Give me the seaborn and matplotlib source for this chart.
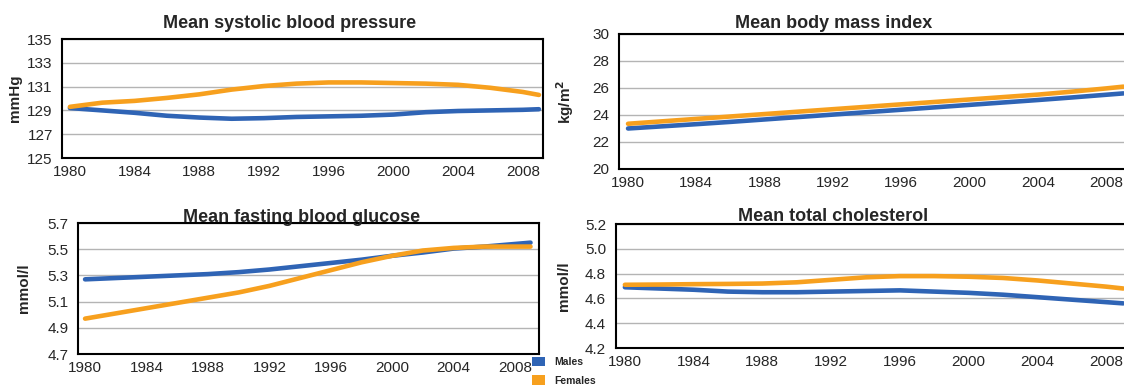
import pandas as pd
import matplotlib.pyplot as plt
import seaborn as sns
from matplotlib.patches import Patch

# values
years = [1980, 1982, 1984, 1986, 1988, 1990, 1992, 1994, 1996, 1998, 2000, 2002, 2004, 2006, 2008, 2009]

sbp_males = [129.2, 129.0, 128.8, 128.55, 128.4, 128.3, 128.35, 128.45, 128.5, 128.55, 128.65, 128.85, 128.95, 129.0, 129.05, 129.1]
sbp_females = [129.3, 129.65, 129.8, 130.05, 130.35, 130.75, 131.05, 131.25, 131.35, 131.35, 131.3, 131.25, 131.15, 130.9, 130.55, 130.3]

bmi_males = [23.0, 23.16, 23.32, 23.49, 23.67, 23.85, 24.03, 24.21, 24.39, 24.57, 24.75, 24.93, 25.11, 25.3, 25.5, 25.6]
bmi_females = [23.35, 23.53, 23.71, 23.89, 24.07, 24.25, 24.43, 24.61, 24.79, 24.97, 25.15, 25.33, 25.51, 25.73, 25.97, 26.1]

glu_males = [5.27, 5.28, 5.29, 5.30, 5.31, 5.325, 5.345, 5.37, 5.395, 5.42, 5.45, 5.475, 5.505, 5.52, 5.54, 5.55]
glu_females = [4.97, 5.01, 5.05, 5.09, 5.13, 5.17, 5.22, 5.28, 5.34, 5.40, 5.45, 5.49, 5.51, 5.52, 5.52, 5.52]

chol_males = [4.69, 4.68, 4.67, 4.655, 4.65, 4.65, 4.655, 4.66, 4.665, 4.655, 4.645, 4.63, 4.61, 4.59, 4.57, 4.56]
chol_females = [4.71, 4.712, 4.715, 4.717, 4.72, 4.73, 4.75, 4.77, 4.78, 4.78, 4.775, 4.765, 4.745, 4.72, 4.695, 4.68]

xticks = [1980, 1984, 1988, 1992, 1996, 2000, 2004, 2008]
sexes = ["Males", "Females"]
colors = {"Males": "#2f64b5", "Females": "#f7a01e"}

sns.set_style("white")
plt.rcParams["font.family"] = ["Liberation Sans", "DejaVu Sans"]

fig = plt.figure(figsize=(11.24, 3.92), dpi=100)

# axes positions in figure fractions (right-hand panels run past the edge, as in the source)
panels = [
    dict(rect=[0.0556, 0.5969, 0.4275, 0.3036], m=sbp_males, f=sbp_females,
         title="Mean systolic blood pressure", tx=0.473, ty=1.13, ylab="mmHg", lx=-0.085,
         ylim=(125, 135), yticks=[125, 127, 129, 131, 133, 135], fmt="{:.0f}", xlim=(1979.54, 2009.25)),
    dict(rect=[0.5507, 0.5689, 0.4564, 0.3444], m=bmi_males, f=bmi_females,
         title="Mean body mass index", tx=0.419, ty=1.08, ylab="kg/m$^\\mathbf{2}$", lx=-0.083,
         ylim=(20, 30), yticks=[20, 22, 24, 26, 28, 30], fmt="{:.0f}", xlim=(1979.47, 2009.5)),
    dict(rect=[0.0694, 0.0969, 0.4101, 0.3342], m=glu_males, f=glu_females,
         title="Mean fasting blood glucose", tx=0.486, ty=1.04, ylab="mmol/l", lx=-0.102,
         ylim=(4.7, 5.7), yticks=[4.7, 4.9, 5.1, 5.3, 5.5, 5.7], fmt="{:.1f}", xlim=(1979.54, 2009.55)),
    dict(rect=[0.548, 0.1122, 0.459, 0.3163], m=chol_males, f=chol_females,
         title="Mean total cholesterol", tx=0.42, ty=1.06, ylab="mmol/l", lx=-0.088,
         ylim=(4.2, 5.2), yticks=[4.2, 4.4, 4.6, 4.8, 5.0, 5.2], fmt="{:.1f}", xlim=(1979.48, 2009.5)),
]

for p in panels:
    ax = fig.add_axes(p["rect"])
    df = pd.DataFrame({
        "year": years * 2,
        "value": p["m"] + p["f"],
        "sex": ["Males"] * len(years) + ["Females"] * len(years),
    })
    sns.lineplot(data=df, x="year", y="value", hue="sex", hue_order=sexes,
                 palette=colors, linewidth=3.3, legend=False, ax=ax)
    ax.set_xlim(p["xlim"])
    ax.set_ylim(p["ylim"])
    ax.set_xticks(xticks)
    ax.set_xticklabels([str(x) for x in xticks], fontsize=11)
    ax.set_yticks(p["yticks"])
    ax.set_yticklabels([p["fmt"].format(v) for v in p["yticks"]], fontsize=11)
    ax.yaxis.grid(True, color="#b4b4b4", linewidth=1)
    ax.set_axisbelow(True)
    ax.tick_params(length=0, axis="x", pad=5)
    ax.tick_params(length=0, axis="y", pad=7)
    for s in ax.spines.values():
        s.set_color("black")
        s.set_linewidth(1.5)
    ax.set_xlabel("")
    ax.set_ylabel(p["ylab"], fontsize=11, fontweight="bold")
    ax.yaxis.set_label_coords(p["lx"], 0.5)
    ax.text(p["tx"], p["ty"], p["title"], transform=ax.transAxes, ha="center", va="center",
            fontsize=13, fontweight="bold")

handles = [Patch(facecolor=colors[s], edgecolor="none") for s in sexes]
fig.legend(handles, sexes, loc="upper left", bbox_to_anchor=(0.473, 0.09), frameon=False,
           prop={"size": 7.5, "weight": "bold"}, handlelength=1.3, handleheight=1.0,
           labelspacing=0.8, handletextpad=0.9, borderpad=0, borderaxespad=0)

plt.savefig("out.png", dpi=100)
